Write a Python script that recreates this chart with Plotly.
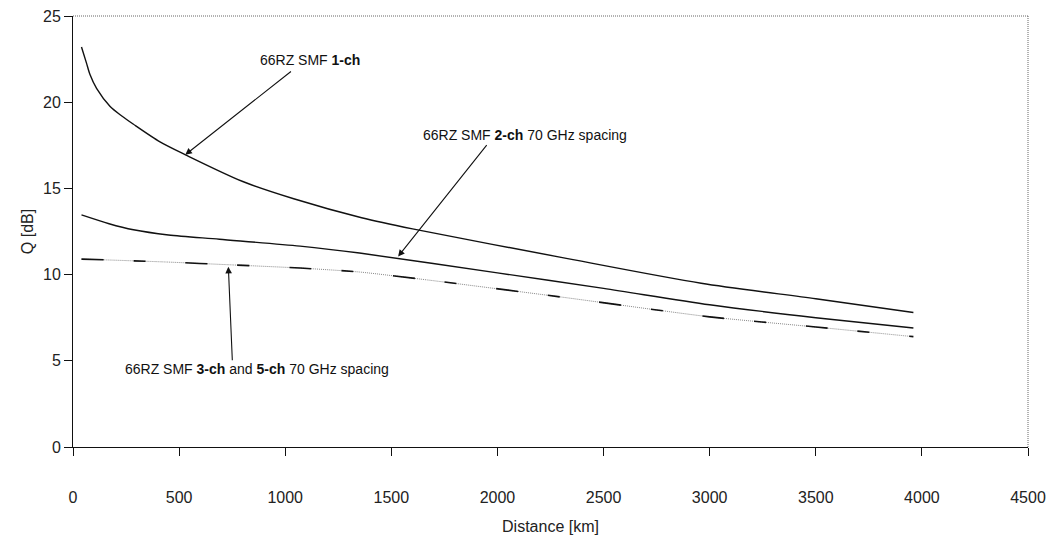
import plotly.graph_objects as go

# Q factor versus transmission distance for 66% RZ over SMF
dist_1ch = [40, 64, 80, 111, 175, 230, 285, 410, 530, 800, 1040, 1360, 1600, 2300, 2960, 3500, 3960]
q_1ch = [23.2, 22.25, 21.6, 20.8, 19.75, 19.2, 18.72, 17.7, 16.95, 15.4, 14.4, 13.3, 12.65, 11.0, 9.5, 8.6, 7.8]

dist_2ch = [40, 170, 285, 450, 690, 1070, 1350, 2000, 2500, 3000, 3500, 3960]
q_2ch = [13.46, 12.95, 12.6, 12.3, 12.05, 11.65, 11.25, 10.1, 9.2, 8.25, 7.5, 6.9]

dist_3ch = [40, 440, 755, 1070, 1350, 1670, 2300, 3000, 3500, 3960]
q_3ch = [10.9, 10.73, 10.56, 10.38, 10.15, 9.69, 8.7, 7.55, 6.96, 6.4]

dist_5ch = [40, 440, 755, 1070, 1350, 1670, 2300, 3000, 3500, 3960]
q_5ch = [10.9, 10.73, 10.56, 10.38, 10.15, 9.69, 8.7, 7.55, 6.96, 6.4]

x_ticks = [0, 500, 1000, 1500, 2000, 2500, 3000, 3500, 4000, 4500]
y_ticks = [0, 5, 10, 15, 20, 25]

# callout labels: (text, x, y) and arrows: (tail x, tail y, head x, head y)
labels = [
    ("66RZ SMF <b>1-ch</b>", 870, 22.45),
    ("66RZ SMF <b>2-ch</b> 70 GHz spacing", 1638, 18.1),
    ("66RZ SMF <b>3-ch</b> and <b>5-ch</b> 70 GHz spacing", 236, 4.5),
]
arrows = [
    (1034, 21.85, 529, 16.95),
    (1955, 17.6, 1532, 11.05),
    (751, 4.95, 732, 10.45),
]

FONT = "Liberation Sans, Arial, sans-serif"

fig = go.Figure()
fig.add_trace(go.Scatter(x=dist_1ch, y=q_1ch, mode="lines",
                         line=dict(color="#111", width=1.4, shape="spline", smoothing=0.8)))
fig.add_trace(go.Scatter(x=dist_2ch, y=q_2ch, mode="lines",
                         line=dict(color="#111", width=1.4, shape="spline", smoothing=0.8)))
fig.add_trace(go.Scatter(x=dist_5ch, y=q_5ch, mode="lines",
                         line=dict(color="#888", width=1, dash="1px,1px", shape="spline", smoothing=0.6)))
fig.add_trace(go.Scatter(x=dist_3ch, y=q_3ch, mode="lines",
                         line=dict(color="#111", width=1.6, dash="22px,30px,12px,40px",
                                   shape="spline", smoothing=0.6)))

annotations = []
for text, x, y in labels:
    annotations.append(dict(x=x, y=y, xref="x", yref="y", text=text, showarrow=False,
                            xanchor="left", yanchor="middle",
                            font=dict(family=FONT, size=14, color="#111")))
for tx, ty, hx, hy in arrows:
    annotations.append(dict(x=hx, y=hy, ax=tx, ay=ty, xref="x", yref="y",
                            axref="x", ayref="y", text="", showarrow=True,
                            arrowhead=2, arrowsize=1.2, arrowwidth=1.1, arrowcolor="#111"))

# dotted top and right frame
shapes = [
    dict(type="line", xref="paper", yref="paper", x0=0, x1=1, y0=1, y1=1,
         line=dict(color="#666", width=1, dash="1px,1px")),
    dict(type="line", xref="paper", yref="paper", x0=1, x1=1, y0=0, y1=1,
         line=dict(color="#666", width=1, dash="1px,1px")),
]

fig.update_layout(
    width=1059, height=535,
    margin=dict(l=73, r=31, t=16, b=88),
    paper_bgcolor="white", plot_bgcolor="white",
    showlegend=False,
    font=dict(family=FONT, size=16, color="#222"),
    annotations=annotations,
    shapes=shapes,
    xaxis=dict(range=[0, 4500], tickvals=x_ticks, ticks="outside", ticklen=8,
               tickcolor="#111", showline=True, linecolor="#111", linewidth=1,
               showgrid=False, zeroline=False, ticklabelstandoff=28,
               tickfont=dict(size=16), automargin=False,
               title=dict(text="Distance [km]", font=dict(size=16), standoff=15)),
    yaxis=dict(range=[0, 25], tickvals=y_ticks, ticks="outside", ticklen=8,
               tickcolor="#111", showline=True, linecolor="#111", linewidth=1,
               showgrid=False, zeroline=False, tickfont=dict(size=16), automargin=False,
               title=dict(text="Q [dB]", font=dict(size=16), standoff=5)),
)

fig.write_html("out.html")
